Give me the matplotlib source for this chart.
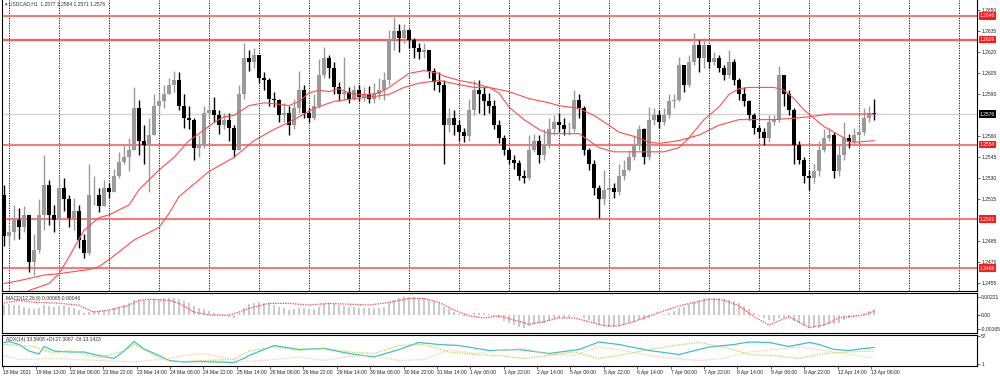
import matplotlib
matplotlib.use("Agg")
import matplotlib.pyplot as plt
import matplotlib.transforms as mtransforms
import numpy as np

plt.rcParams['font.family'] = ['Liberation Sans', 'DejaVu Sans']

# USDCAD candles (resampled, oldest -> newest)
first_open = 1.2518
closes = [1.2489, 1.2492, 1.2500, 1.2495, 1.2504, 1.2470, 1.2479, 1.2504, 1.2525, 1.2504,
          1.2500, 1.2523, 1.2515, 1.2502, 1.2507, 1.2486, 1.2477, 1.2518, 1.2518, 1.2510,
          1.2523, 1.2520, 1.2532, 1.2542, 1.2545, 1.2550, 1.2580, 1.2557, 1.2554, 1.2561,
          1.2582, 1.2585, 1.2590, 1.2597, 1.2600, 1.2582, 1.2573, 1.2572, 1.2552, 1.2554,
          1.2577, 1.2579, 1.2575, 1.2568, 1.2572, 1.2566, 1.2550, 1.2590, 1.2616, 1.2613,
          1.2618, 1.2602, 1.2600, 1.2587, 1.2586, 1.2575, 1.2577, 1.2568, 1.2580, 1.2593,
          1.2577, 1.2573, 1.2582, 1.2604, 1.2616, 1.2609, 1.2595, 1.2590, 1.2592, 1.2587,
          1.2593, 1.2588, 1.2590, 1.2587, 1.2590, 1.2593, 1.2600, 1.2629, 1.2635, 1.2630,
          1.2636, 1.2629, 1.2623, 1.2620, 1.2622, 1.2607, 1.2599, 1.2597, 1.2568, 1.2573,
          1.2568, 1.2563, 1.2560, 1.2579, 1.2593, 1.2590, 1.2585, 1.2582, 1.2568, 1.2559,
          1.2550, 1.2543, 1.2541, 1.2532, 1.2530, 1.2550, 1.2557, 1.2547, 1.2554, 1.2565,
          1.2570, 1.2568, 1.2565, 1.2565, 1.2586, 1.2580, 1.2550, 1.2540, 1.2523, 1.2515,
          1.2522, 1.2523, 1.2520, 1.2532, 1.2536, 1.2545, 1.2554, 1.2565, 1.2545, 1.2572,
          1.2575, 1.2570, 1.2575, 1.2585, 1.2586, 1.2611, 1.2597, 1.2613, 1.2625, 1.2616,
          1.2625, 1.2613, 1.2616, 1.2609, 1.2604, 1.2613, 1.2600, 1.2590, 1.2585, 1.2575,
          1.2566, 1.2563, 1.2559, 1.2570, 1.2572, 1.2604, 1.2590, 1.2579, 1.2554, 1.2543,
          1.2532, 1.2530, 1.2535, 1.2550, 1.2559, 1.2561, 1.2535, 1.2547, 1.2559, 1.2556,
          1.2561, 1.2563, 1.2573, 1.2577, 1.2576]
highs = [1.2525, 1.2497, 1.2511, 1.2509, 1.2510, 1.2504, 1.2490, 1.2515, 1.2547, 1.2529,
         1.2511, 1.2532, 1.2530, 1.2518, 1.2516, 1.2511, 1.2490, 1.2540, 1.2532, 1.2523,
         1.2529, 1.2527, 1.2537, 1.2549, 1.2554, 1.2559, 1.2595, 1.2586, 1.2568, 1.2573,
         1.2590, 1.2591, 1.2597, 1.2602, 1.2607, 1.2606, 1.2590, 1.2582, 1.2573, 1.2561,
         1.2582, 1.2584, 1.2588, 1.2579, 1.2577, 1.2577, 1.2568, 1.2597, 1.2627, 1.2622,
         1.2623, 1.2618, 1.2606, 1.2602, 1.2592, 1.2587, 1.2584, 1.2582, 1.2587, 1.2607,
         1.2597, 1.2580, 1.2590, 1.2615, 1.2624, 1.2618, 1.2613, 1.2599, 1.2617, 1.2595,
         1.2597, 1.2597, 1.2595, 1.2596, 1.2598, 1.2602, 1.2606, 1.2636, 1.2645, 1.2640,
         1.2640, 1.2637, 1.2630, 1.2627, 1.2627, 1.2622, 1.2609, 1.2606, 1.2600, 1.2580,
         1.2579, 1.2572, 1.2566, 1.2587, 1.2600, 1.2600, 1.2595, 1.2591, 1.2586, 1.2572,
         1.2561, 1.2552, 1.2547, 1.2543, 1.2536, 1.2561, 1.2562, 1.2561, 1.2565, 1.2573,
         1.2575, 1.2577, 1.2573, 1.2570, 1.2593, 1.2590, 1.2582, 1.2552, 1.2543, 1.2525,
         1.2536, 1.2530, 1.2527, 1.2540, 1.2543, 1.2550, 1.2561, 1.2568, 1.2566, 1.2581,
         1.2580, 1.2579, 1.2580, 1.2590, 1.2590, 1.2617, 1.2607, 1.2618, 1.2634, 1.2629,
         1.2630, 1.2620, 1.2620, 1.2618, 1.2611, 1.2622, 1.2615, 1.2602, 1.2595, 1.2586,
         1.2577, 1.2568, 1.2566, 1.2575, 1.2575, 1.2610, 1.2604, 1.2593, 1.2580, 1.2557,
         1.2545, 1.2536, 1.2540, 1.2557, 1.2565, 1.2566, 1.2563, 1.2554, 1.2570, 1.2562,
         1.2566, 1.2568, 1.2580, 1.2582, 1.2587]
lows = [1.2482, 1.2482, 1.2486, 1.2487, 1.2492, 1.2463, 1.2461, 1.2477, 1.2493, 1.2497,
        1.2492, 1.2497, 1.2507, 1.2495, 1.2493, 1.2480, 1.2473, 1.2475, 1.2511, 1.2506,
        1.2515, 1.2516, 1.2522, 1.2530, 1.2540, 1.2535, 1.2550, 1.2547, 1.2540, 1.2520,
        1.2561, 1.2577, 1.2580, 1.2590, 1.2592, 1.2579, 1.2566, 1.2565, 1.2543, 1.2545,
        1.2552, 1.2573, 1.2570, 1.2562, 1.2565, 1.2557, 1.2545, 1.2552, 1.2587, 1.2607,
        1.2609, 1.2598, 1.2593, 1.2582, 1.2581, 1.2570, 1.2570, 1.2561, 1.2565, 1.2577,
        1.2573, 1.2570, 1.2572, 1.2580, 1.2602, 1.2602, 1.2590, 1.2585, 1.2586, 1.2584,
        1.2586, 1.2585, 1.2585, 1.2584, 1.2584, 1.2587, 1.2586, 1.2597, 1.2622, 1.2620,
        1.2627, 1.2623, 1.2616, 1.2615, 1.2616, 1.2602, 1.2593, 1.2592, 1.2540, 1.2563,
        1.2561, 1.2557, 1.2556, 1.2557, 1.2575, 1.2577, 1.2575, 1.2577, 1.2565, 1.2555,
        1.2547, 1.2540, 1.2537, 1.2529, 1.2527, 1.2529, 1.2549, 1.2541, 1.2543, 1.2552,
        1.2561, 1.2563, 1.2561, 1.2561, 1.2563, 1.2573, 1.2547, 1.2536, 1.2518, 1.2502,
        1.2511, 1.2517, 1.2516, 1.2518, 1.2529, 1.2535, 1.2543, 1.2550, 1.2540, 1.2543,
        1.2568, 1.2566, 1.2568, 1.2573, 1.2580, 1.2585, 1.2592, 1.2595, 1.2611, 1.2606,
        1.2609, 1.2609, 1.2611, 1.2606, 1.2600, 1.2602, 1.2597, 1.2586, 1.2582, 1.2572,
        1.2562, 1.2559, 1.2554, 1.2556, 1.2568, 1.2570, 1.2582, 1.2575, 1.2540, 1.2540,
        1.2527, 1.2522, 1.2527, 1.2532, 1.2549, 1.2557, 1.2530, 1.2532, 1.2543, 1.2552,
        1.2554, 1.2557, 1.2561, 1.2570, 1.2572]

# moving averages (bar index, value)
ma_fast_idx = [5, 9, 11, 13, 16, 19, 21, 25, 27, 31, 34, 37, 39, 42, 44, 46, 49, 52, 55, 57,
               59, 61, 63, 65, 67, 69, 71, 73, 75, 77, 81, 84, 87, 88, 91, 94, 97, 99, 101, 104,
               107, 109, 113, 115, 117, 119, 122, 125, 127, 130, 132, 135, 137, 140, 143, 145, 147, 149, 151, 154,
               156, 158, 160, 162, 164, 166, 168, 169, 171, 174]
ma_fast = [1.2450, 1.2455, 1.2462, 1.2474, 1.2493, 1.2502, 1.2504, 1.2511, 1.2522, 1.2536,
           1.2545, 1.2557, 1.2562, 1.2570, 1.2574, 1.2575, 1.2582, 1.2584, 1.2583, 1.2582,
           1.2585, 1.2591, 1.2593, 1.2592, 1.2594, 1.2591, 1.2590, 1.2590, 1.2591, 1.2595,
           1.2605, 1.2607, 1.2605, 1.2603, 1.2600, 1.2598, 1.2595, 1.2591, 1.2581, 1.2572,
           1.2565, 1.2562, 1.2562, 1.2562, 1.2557, 1.2552, 1.2549, 1.2549, 1.2549, 1.2549,
           1.2549, 1.2552, 1.2559, 1.2572, 1.2581, 1.2590, 1.2594, 1.2595, 1.2595, 1.2595,
           1.2593, 1.2587, 1.2579, 1.2573, 1.2567, 1.2563, 1.2559, 1.2556, 1.2556, 1.2557]
ma_slow_idx = [0, 3, 8, 11, 17, 19, 21, 26, 31, 33, 35, 41, 44, 46, 50, 54, 57, 59, 62, 66,
               70, 73, 77, 80, 83, 87, 91, 94, 97, 101, 105, 109, 111, 115, 118, 121, 123, 126, 129, 131,
               135, 139, 143, 147, 150, 154, 158, 161, 165, 169, 174]
ma_slow = [1.2455, 1.2457, 1.2461, 1.2462, 1.2465, 1.2467, 1.2472, 1.2486, 1.2495, 1.2505,
           1.2517, 1.2535, 1.2541, 1.2545, 1.2557, 1.2565, 1.2570, 1.2574, 1.2580, 1.2585,
           1.2587, 1.2588, 1.2590, 1.2595, 1.2598, 1.2600, 1.2597, 1.2595, 1.2595, 1.2592,
           1.2587, 1.2584, 1.2582, 1.2580, 1.2575, 1.2568, 1.2563, 1.2560, 1.2556, 1.2555,
           1.2557, 1.2561, 1.2568, 1.2572, 1.2572, 1.2572, 1.2573, 1.2574, 1.2576, 1.2576, 1.2576]

levels = [1.2646, 1.2629, 1.2554, 1.2501, 1.2466]
last_price = 1.2576
price_ticks = [1.2455, 1.2470, 1.2485, 1.2515, 1.2530, 1.2545, 1.2560, 1.2590, 1.2605, 1.2620, 1.2635, 1.2650]

# MACD main (histogram) per bar, in 1e-5
macd_main = [120, 130, 125, 120, 100, 80, 70, 90, 120, 110, 100,
             110, 105, 95, 90, 60, 30, 40, 50, 45, 55, 60,
             80, 100, 120, 140, 180, 185, 180, 175,
             190, 195, 200, 205, 210, 190, 170, 150,
             110, 80, 70, 50, 30, 10, -10, -20,
             -30, 20, 90, 130, 150, 160, 150,
             140, 120, 100, 80, 60, 70, 90, 80, 70, 75,
             100, 130, 140, 130, 120, 110, 100, 95,
             90, 85, 80, 80, 85, 95,
             140, 180, 200, 215, 220, 215, 210, 200, 185, 170, 150,
             100, 70, 40, 10, -10, -5, 20, 30, 25, 15, -10, -40, -70,
             -100, -120, -140, -150, -130, -110, -100, -90,
             -70, -50, -40, -35, -30, -10, -5, -30,
             -60, -90, -120, -135, -140, -140, -130, -120, -100, -80, -60, -55,
             -30, -10, 0, 10, 30, 50, 80, 100, 130,
             160, 180, 200, 205, 210, 205, 195, 185, 170,
             140, 110, 70, 30, -10, -40, -60, -70,
             -40, -30, -35,
             -70, -100, -130, -150, -160, -150, -130, -110, -105,
             -90, -60, -40, -20, 0, 30, 50, 70]
sig_idx = [0, 3, 6, 11, 15, 17, 18, 21, 25, 27, 29, 33, 35, 38, 41, 45, 47, 49, 53, 57,
           61, 65, 69, 73, 77, 81, 84, 87, 90, 93, 96, 99, 102, 105, 108, 111, 114, 117, 120, 123,
           126, 129, 132, 135, 138, 141, 144, 147, 150, 153, 157, 161, 164, 167, 169, 172, 174]
macd_signal = [142, 177, 153, 142, 118, 60, 35, 60, 118, 177, 190, 177, 142, 35, 0, 0, 35, 80, 140, 140,
               120, 140, 130, 120, 150, 200, 200, 150, 60, -10, -35, -10, -60, -110, -80, -35, -35, -80, -130, -130,
               -80, -10, 50, 110, 150, 190, 180, 110, -20, -120, -20, -150, -120, -35, -20, 0, 46]

# ADX(14)
adx_idx = [0, 1, 3, 5, 7, 8, 10, 13, 16, 19, 22, 24, 26, 28, 31, 33, 36, 39, 43, 46, 48, 49,
           54, 59, 64, 69, 74, 79, 83, 87, 91, 97, 103, 109, 115, 119, 123, 129, 135, 141, 146,
           149, 153, 157, 161, 163, 166, 169, 172, 174]
adx = [44, 46, 40, 27, 21, 36, 27, 25, 25, 18, 12, 27, 46, 31, 18, 8, 5, 6, 5, 4, 12, 18,
       38, 30, 32, 22, 15, 30, 44, 40, 38, 28, 30, 22, 30, 45, 40, 28, 20, 35, 40,
       45, 44, 36, 44, 40, 30, 28, 32, 34]
pdi_idx = [0, 6, 10, 13, 19, 24, 26, 31, 34, 40, 46, 49, 54, 59, 64, 69, 74, 79, 84, 89,
           94, 99, 104, 109, 114, 119, 124, 129, 134, 139, 144, 149, 154, 159, 164, 169, 174]
pdi = [40, 36, 22, 28, 14, 27, 40, 14, 5, 8, 10, 27, 35, 28, 33, 25, 22, 38, 40, 25,
       20, 18, 12, 18, 25, 12, 20, 30, 38, 44, 35, 20, 18, 12, 22, 25, 27]
mdi_idx = [0, 3, 10, 19, 26, 33, 36, 40, 45, 48, 54, 59, 64, 69, 74, 79, 84, 89, 94, 99,
           104, 109, 114, 119, 124, 129, 134, 139, 144, 149, 154, 159, 164, 169, 174]
mdi = [18, 10, 12, 8, 5, 12, 18, 22, 12, 6, 10, 15, 8, 16, 18, 8, 10, 30, 22, 28,
       32, 20, 18, 35, 28, 18, 12, 8, 12, 25, 30, 35, 28, 20, 13]

time_labels = ["18 Mar 2021", "19 Mar 13:00", "22 Mar 06:00", "22 Mar 22:00", "23 Mar 14:00",
               "24 Mar 06:00", "24 Mar 22:00", "25 Mar 14:00", "26 Mar 06:00", "26 Mar 22:00",
               "29 Mar 14:00", "30 Mar 06:00", "30 Mar 22:00", "31 Mar 14:00", "1 Apr 06:00",
               "1 Apr 22:00", "2 Apr 14:00", "5 Apr 06:00", "5 Apr 22:00", "6 Apr 14:00",
               "7 Apr 06:00", "7 Apr 22:00", "8 Apr 14:00", "9 Apr 06:00", "9 Apr 22:00",
               "12 Apr 14:00", "13 Apr 06:00"]

FS = 3.6
n = len(closes)
idx = np.arange(n)
c = np.array(closes)
o = np.array([first_open] + closes[:-1])
h = np.maximum(np.array(highs), np.maximum(o, c))
l = np.minimum(np.array(lows), np.minimum(o, c))
bull = c >= o
cols = np.where(bull, '#9a9a9a', '#000000')

fig = plt.figure(figsize=(10, 3.77), dpi=100)
xlim = (-0.4, 194.6)

ax = fig.add_axes([0.002, 0.228, 0.975, 0.772])
ax.set_xlim(*xlim)
ax.set_ylim(1.24496, 1.26574)

for gx in range(1, 195, 10):
    ax.axvline(gx, color='#000000', lw=0.6, ls=(0, (1.5, 1.5)), zorder=0)
ax.axhline(last_price, color='#d4d4d4', lw=1.0, zorder=1)
for lv in levels:
    ax.axhline(lv, color='#ff5c5c', lw=1.6 if lv == 1.2629 else 1.2, zorder=1)

ax.vlines(idx, l, h, colors=cols, lw=1.0, zorder=3)
body = np.maximum(np.abs(c - o), 0.00004)
ax.bar(idx, body, bottom=np.minimum(o, c), width=0.7, color=cols, zorder=3, linewidth=0)

ax.plot(ma_fast_idx, ma_fast, color='#ff4d4d', lw=0.8, zorder=4)
ax.plot(ma_slow_idx, ma_slow, color='#ff4d4d', lw=0.8, zorder=4)

ax.yaxis.tick_right()
ax.set_yticks(price_ticks)
ax.set_yticklabels([f"{p:.4f}" for p in price_ticks])
ax.tick_params(axis='y', labelsize=FS, length=2, width=0.5, pad=1, colors='#222222')
ax.set_xticks([])
for s in ax.spines.values():
    s.set_linewidth(0.8)
ax.spines['top'].set_visible(False)

tr = mtransforms.blended_transform_factory(ax.transAxes, ax.transData)
for lv in levels:
    ax.text(1.003, lv, f"{lv:.4f}", transform=tr, fontsize=FS, color='white', va='center', ha='left',
            bbox=dict(facecolor='#ff1a1a', edgecolor='none', pad=0.8), zorder=6, clip_on=False)
ax.text(1.003, last_price, f"{last_price:.4f}", transform=tr, fontsize=FS, color='white', va='center',
        ha='left', bbox=dict(facecolor='#000000', edgecolor='none', pad=0.8), zorder=6, clip_on=False)
ax.text(0.003, 0.997, "\u25be USDCAD,H1  1.2577 1.2584 1.2571 1.2576", transform=ax.transAxes,
        fontsize=FS, color='#333333', va='top', ha='left')

# MACD panel
am = fig.add_axes([0.002, 0.1167, 0.975, 0.106])
am.set_xlim(*xlim)
am.set_ylim(-0.00216, 0.00264)
am.bar(idx, np.array(macd_main) * 1e-5, width=0.5, color='#cbcbcb', linewidth=0)
am.plot(sig_idx, np.array(macd_signal) * 1e-5, color='#ff4040', lw=0.9, ls=(0, (1, 1)))
am.yaxis.tick_right()
am.set_yticks([0.00221, 0.0, -0.00165])
am.set_yticklabels(["0.00221", "0.00", "-0.00165"])
am.tick_params(axis='y', labelsize=FS, length=2, width=0.5, pad=1, colors='#222222')
am.set_xticks([])
for s in am.spines.values():
    s.set_linewidth(0.8)
am.text(0.004, 0.93, "MACD(12,26,9) 0.00065 0.00046", transform=am.transAxes, fontsize=FS,
        color='#333333', va='top', ha='left')

# ADX panel
ad = fig.add_axes([0.002, 0.0292, 0.975, 0.0822])
ad.set_xlim(*xlim)
ad.set_ylim(-3, 59)
ad.plot(adx_idx, adx, color='#3fc1c9', lw=0.9)
ad.plot(pdi_idx, pdi, color='#b5d94a', lw=0.9, ls=(0, (1, 1)))
ad.plot(mdi_idx, mdi, color='#f7c9a8', lw=0.9, ls=(0, (1, 1)))
ad.yaxis.tick_right()
ad.set_yticks([57, 1])
ad.set_yticklabels(["57", "1"])
ad.tick_params(axis='y', labelsize=FS, length=2, width=0.5, pad=1, colors='#222222')
label_pos = [-0.2 + 6.676 * k for k in range(len(time_labels))]
ad.set_xticks(label_pos)
ad.set_xticklabels(time_labels)
ad.tick_params(axis='x', labelsize=FS, length=2, width=0.5, pad=0.8, colors='#222222')
for t in ad.get_xticklabels():
    t.set_ha('left')
for s in ad.spines.values():
    s.set_linewidth(0.8)
ad.text(0.004, 0.93, "ADX(14) 33.5908 +DI:27.3067 -DI:13.1423", transform=ad.transAxes, fontsize=FS,
        color='#333333', va='top', ha='left')

fig.savefig("out.png", dpi=100)
